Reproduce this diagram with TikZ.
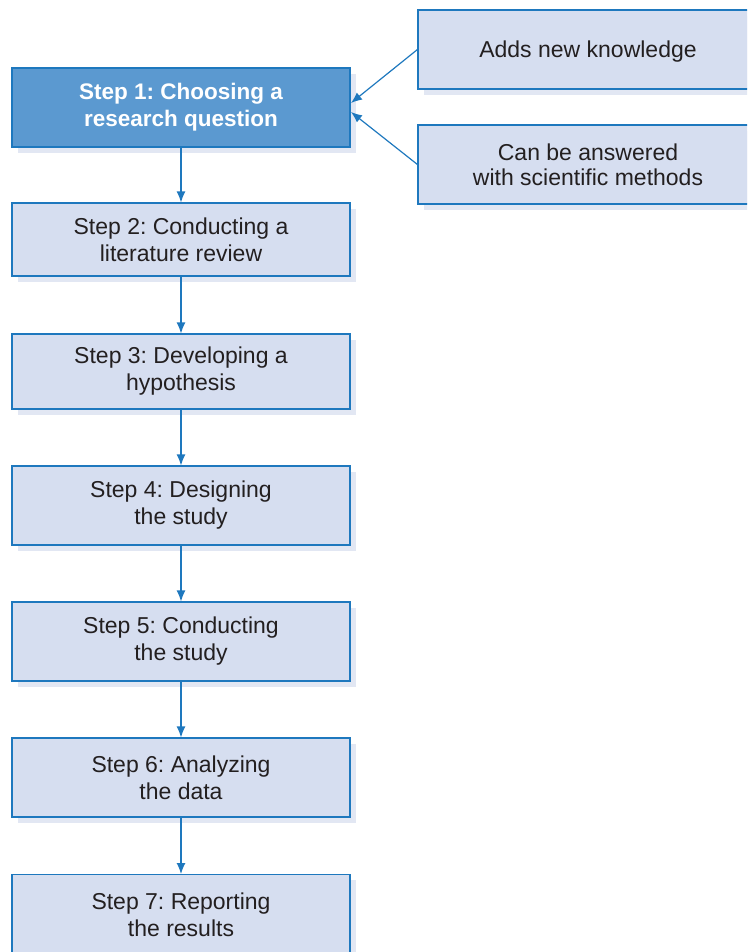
\documentclass[tikz,border=0pt]{standalone}
\usepackage{fontspec}
\setmainfont{Liberation Sans}
\frenchspacing
\usetikzlibrary{arrows.meta}
\definecolor{boxfill}{RGB}{214,222,240}
\definecolor{shadowc}{RGB}{226,231,243}
\definecolor{darkfill}{RGB}{91,153,208}
\definecolor{edgec}{RGB}{30,120,190}
\definecolor{txt}{RGB}{35,31,32}
\tikzset{
  x=1pt, y=-1pt,
  stepbox/.style={draw=edgec, line width=1.1pt, fill=boxfill, text=txt, align=center,
    minimum width=338pt, minimum height=76pt, inner sep=0pt,
    font=\fontsize{23}{27}\selectfont},
  firstbox/.style={stepbox, fill=darkfill, text=white, font=\fontsize{22.5}{27}\selectfont\bfseries},
  sidebox/.style={stepbox, minimum width=340pt, minimum height=79pt},
  conn/.style={draw=edgec, line width=1.2pt, -{Latex[length=11pt,width=9pt]}}
}
\begin{document}
\begin{tikzpicture}
\useasboundingbox (0,0) rectangle (747,952);
\clip (0,0) rectangle (747,952);
% shadows
\foreach \t/\b in {68/147,203/276,334/409,466/545,602/681,738/817,874/960}{
  \fill[shadowc] (18,\t+6) rectangle (356,\b+6);
}
\fill[shadowc] (424,16) rectangle (760,95);
\fill[shadowc] (424,131) rectangle (760,210);
% step boxes
\node[firstbox, minimum height=79pt] (s1) at (181,107.5) {Step 1: Choosing a\\research question};
\node[stepbox, minimum height=73pt] (s2) at (181,239.5) {Step 2: Conducting a\\literature review};
\node[stepbox, minimum height=75pt] (s3) at (181,371.5) {Step 3: Developing a\\hypothesis};
\node[stepbox, minimum height=79pt] (s4) at (181,505.5) {Step 4: Designing\\the study};
\node[stepbox, minimum height=79pt] (s5) at (181,641.5) {Step 5: Conducting\\the study};
\node[stepbox, minimum height=79pt] (s6) at (181,777.5) {Step 6: Analyzing\\the data};
\node[stepbox, minimum height=80pt, anchor=north] (s7) at (181,874) {Step 7: Reporting\\the results};
% side boxes
\node[sidebox] (a) at (588,49.5) {\raisebox{-8pt}[0pt][0pt]{Adds new knowledge}};
\node[sidebox] (b) at (588,164.5) {\raisebox{-2pt}{Can be answered}\\with scientific methods};
% connectors
\draw[conn] (s1.south) -- (s2.north);
\draw[conn] (s2.south) -- (s3.north);
\draw[conn] (s3.south) -- (s4.north);
\draw[conn] (s4.south) -- (s5.north);
\draw[conn] (s5.south) -- (s6.north);
\draw[conn] (s6.south) -- (s7.north);
\coordinate (t1) at (351,103);
\coordinate (t2) at (351,112);
\draw[conn] (a.west) -- (t1);
\draw[conn] (b.west) -- (t2);
\end{tikzpicture}
\end{document}
